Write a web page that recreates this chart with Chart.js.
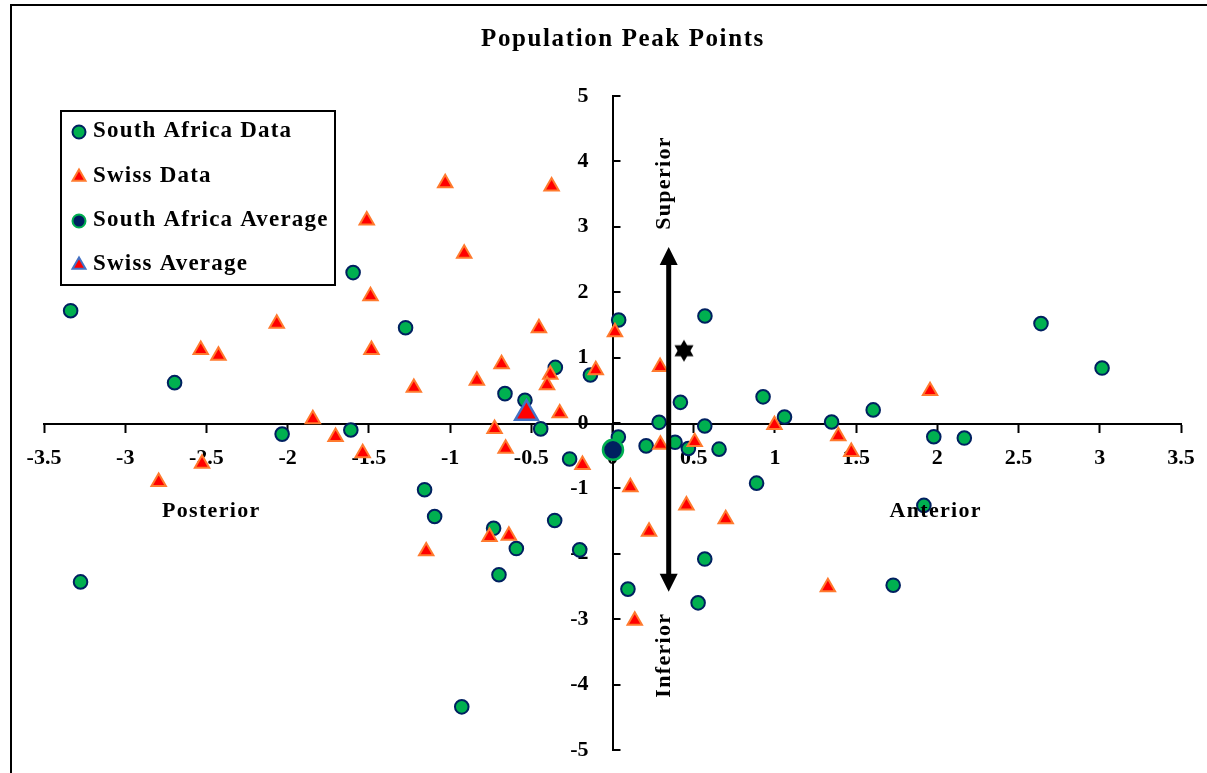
<!DOCTYPE html>
<html>
<head>
<meta charset="utf-8">
<script src="https://cdn.jsdelivr.net/npm/chart.js@4.4.1/dist/chart.umd.min.js"></script>
<style>
  html, body { margin: 0; padding: 0; background: #fff; }
  #wrap { position: relative; width: 1207px; height: 773px; }
  canvas { display: block; }
</style>
</head>
<body>
<div id="wrap"><canvas id="chart" width="1207" height="773"></canvas></div>
<script>
// Peak point coordinates (posterior/anterior on x, inferior/superior on y)
const southAfricaX = [
  -3.336, -2.696, -3.275, -2.034, -1.611, -1.597, -1.274, -1.157, -1.095, -0.732,
  -0.699, -0.592, -0.662, -0.539, -0.442, -0.352, -0.356, -0.264, -0.202, -0.136,
   0.038,  0.036,  0.207,  0.287,  0.418,  0.385,  0.467,  0.569,  0.568,  0.656,
   0.095,  0.527,  0.568,  0.887,  0.927,  1.059,  1.349,  1.605,  1.978,  2.166,
   1.917,  1.728,  2.638,  3.014, -0.928
];
const southAfricaY = [
   1.717,  0.617, -2.430, -0.170, -0.107,  2.300,  1.457, -1.020, -1.430, -1.610,
  -2.320, -1.920,  0.449,  0.347, -0.090,  0.850, -1.490, -0.550, -1.940,  0.734,
   1.575, -0.215, -0.350,  0.010,  0.316, -0.295, -0.390,  1.636, -0.046, -0.400,
  -2.540, -2.750, -2.080, -0.920,  0.400,  0.092,  0.015,  0.200, -0.210, -0.230,
  -1.260, -2.480,  1.520,  0.840, -4.340
];
const swissX = [
  -1.030, -0.375, -1.513, -0.913, -1.490, -2.067, -2.535, -2.426, -1.484, -0.453,
   0.015, -0.683, -0.835, -1.223, -0.383, -0.403, -0.103,  0.293, -0.325, -0.726,
  -0.658, -0.185, -1.845, -1.705, -1.538, -2.527, -2.794, -1.147, -0.757, -0.638,
   0.110,  0.225,  0.137,  0.295,  0.506,  0.455,  0.697,  0.997,  1.390,  1.470,
   1.955,  1.326
];
const swissY = [
   3.67,  3.62,  3.10,  2.59,  1.94,  1.52,  1.12,  1.03,  1.12,  1.45,
   1.39,  0.90,  0.65,  0.54,  0.74,  0.58,  0.81,  0.86,  0.15, -0.09,
  -0.39, -0.64,  0.06, -0.21, -0.46, -0.62, -0.90, -1.96, -1.74, -1.72,
  -0.98, -1.66, -3.02, -0.33, -0.29, -1.26, -1.47, -0.03, -0.20, -0.44,
   0.49, -2.51
];
const southAfricaAverage = [0.003, -0.41];
const swissAverage = [-0.53, 0.15];
const markedPoint = [0.44, 1.105];

const seriesNames = ['South Africa Data', 'Swiss Data', 'South Africa Average', 'Swiss Average'];
const xTickValues = [-3.5, -3, -2.5, -2, -1.5, -1, -0.5, 0, 0.5, 1, 1.5, 2, 2.5, 3, 3.5];
const yTickValues = [-5, -4, -3, -2, -1, 0, 1, 2, 3, 4, 5];

// Superior/inferior double arrow: x value and the two tip y values
const arrowX = 0.346;
const arrowTips = [2.69, -2.58];

const directionLabels = ['Posterior', 'Anterior', 'Superior', 'Inferior'];

// ---- styling and layout ----
const FONT = '"Liberation Serif", "DejaVu Serif", serif';
const GREEN = '#00B050', NAVY = '#002060', RED = '#FF0000', ORANGE = '#FF7A2E', BLUE = '#4472C4';

const toPoints = (xs, ys) => xs.map((x, i) => ({ x, y: ys[i] }));

// filled six-pointed star used for the marked point
function makeStar(r) {
  const size = Math.ceil(r * 2 + 4);
  const c = document.createElement('canvas');
  c.width = size; c.height = size;
  const g = c.getContext('2d');
  const cx = size / 2, cy = size / 2;
  g.fillStyle = '#000';
  [0, Math.PI].forEach(off => {
    g.beginPath();
    for (let k = 0; k < 3; k++) {
      const a = off + k * 2 * Math.PI / 3;
      const px = cx + Math.sin(a) * r, py = cy - Math.cos(a) * r;
      k === 0 ? g.moveTo(px, py) : g.lineTo(px, py);
    }
    g.closePath();
    g.fill();
  });
  return c;
}

const datasets = [
  { label: seriesNames[0], data: toPoints(southAfricaX, southAfricaY), pointStyle: 'circle', radius: 6.8,
    backgroundColor: GREEN, borderColor: NAVY, borderWidth: 2, order: 4 },
  { label: seriesNames[1], data: toPoints(swissX, swissY), pointStyle: 'triangle', radius: 8.3,
    backgroundColor: RED, borderColor: ORANGE, borderWidth: 2, order: 3 },
  { label: seriesNames[2], data: [{ x: southAfricaAverage[0], y: southAfricaAverage[1] }], pointStyle: 'circle', radius: 10,
    backgroundColor: NAVY, borderColor: GREEN, borderWidth: 2.5, order: 2 },
  { label: seriesNames[3], data: [{ x: swissAverage[0], y: swissAverage[1] }], pointStyle: 'triangle', radius: 13,
    backgroundColor: RED, borderColor: BLUE, borderWidth: 2.5, order: 1 },
  { label: 'marker', data: [{ x: markedPoint[0], y: markedPoint[1] }], pointStyle: makeStar(11), radius: 11,
    backgroundColor: '#000', borderColor: '#000', borderWidth: 0, order: 0 }
];

function spaced(ctx, px) { if ('letterSpacing' in ctx) ctx.letterSpacing = px + 'px'; }

// white page with an outer frame, plus the chart title
const framePlugin = {
  id: 'frame',
  beforeDraw(chart) {
    const ctx = chart.ctx;
    ctx.save();
    ctx.fillStyle = '#fff';
    ctx.fillRect(0, 0, chart.width, chart.height);
    ctx.strokeStyle = '#000';
    ctx.lineWidth = 2;
    ctx.strokeRect(11, 5, chart.width + 20, chart.height + 20);
    ctx.fillStyle = '#000';
    ctx.font = 'bold 25px ' + FONT;
    spaced(ctx, 1.6);
    ctx.textAlign = 'center';
    ctx.textBaseline = 'middle';
    ctx.fillText('Population Peak Points', 623, 40);
    ctx.restore();
  }
};

// y tick marks point to the right of the vertical axis
const yTickMarks = {
  id: 'yTickMarks',
  afterDraw(chart) {
    const { x: xs, y: ys } = chart.scales;
    const ctx = chart.ctx;
    const x0 = xs.getPixelForValue(0);
    ctx.save();
    ctx.strokeStyle = '#000';
    ctx.lineWidth = 2;
    ys.ticks.forEach(t => {
      const py = Math.round(ys.getPixelForValue(t.value));
      ctx.beginPath();
      ctx.moveTo(x0, py);
      ctx.lineTo(x0 + 8, py);
      ctx.stroke();
    });
    ctx.restore();
  }
};

// double-headed arrow and direction words
const arrowPlugin = {
  id: 'arrow',
  afterDatasetsDraw(chart) {
    const { x: xs, y: ys } = chart.scales;
    const ctx = chart.ctx;
    const px = xs.getPixelForValue(arrowX);
    const top = ys.getPixelForValue(arrowTips[0]);
    const bot = ys.getPixelForValue(arrowTips[1]);
    const headLen = 18, headHalf = 9;
    ctx.save();
    ctx.strokeStyle = '#000';
    ctx.fillStyle = '#000';
    ctx.lineWidth = 5;
    ctx.beginPath();
    ctx.moveTo(px, top + headLen - 2);
    ctx.lineTo(px, bot - headLen + 2);
    ctx.stroke();
    ctx.beginPath();
    ctx.moveTo(px, top);
    ctx.lineTo(px + headHalf, top + headLen);
    ctx.lineTo(px - headHalf, top + headLen);
    ctx.closePath();
    ctx.fill();
    ctx.beginPath();
    ctx.moveTo(px, bot);
    ctx.lineTo(px + headHalf, bot - headLen);
    ctx.lineTo(px - headHalf, bot - headLen);
    ctx.closePath();
    ctx.fill();

    ctx.font = 'bold 22px ' + FONT;
    spaced(ctx, 1.3);
    ctx.textAlign = 'center';
    ctx.textBaseline = 'middle';
    ctx.fillText(directionLabels[0], xs.getPixelForValue(-2.47), ys.getPixelForValue(-1.35));
    ctx.fillText(directionLabels[1], xs.getPixelForValue(1.99), ys.getPixelForValue(-1.35));
    [[directionLabels[2], 3.67], [directionLabels[3], -3.55]].forEach(([txt, yv]) => {
      ctx.save();
      ctx.translate(xs.getPixelForValue(0.32), ys.getPixelForValue(yv));
      ctx.rotate(-Math.PI / 2);
      ctx.fillText(txt, 0, 0);
      ctx.restore();
    });
    ctx.restore();
  }
};

// boxed legend in the upper-left of the plot
const legendBox = {
  id: 'legendBox',
  afterDraw(chart) {
    const ctx = chart.ctx;
    const box = { x: 61, y: 111, w: 274, h: 174 };
    const rows = [131, 176, 220, 264];
    const markerR = [6.5, 7.5, 6.5, 7.5];
    ctx.save();
    ctx.strokeStyle = '#000';
    ctx.lineWidth = 2;
    ctx.strokeRect(box.x, box.y, box.w, box.h);
    ctx.font = 'bold 23px ' + FONT;
    spaced(ctx, 1.2);
    ctx.textAlign = 'left';
    ctx.textBaseline = 'middle';
    for (let i = 0; i < 4; i++) {
      const ds = chart.data.datasets[i];
      ctx.fillStyle = ds.backgroundColor;
      ctx.strokeStyle = ds.borderColor;
      ctx.lineWidth = 2;
      Chart.helpers.drawPoint(ctx, { pointStyle: ds.pointStyle, radius: markerR[i], rotation: 0, borderWidth: 2 }, 79, rows[i] + 1);
      ctx.fillStyle = '#000';
      ctx.fillText(ds.label, 93, rows[i]);
    }
    ctx.restore();
  }
};

const tickFont = { family: FONT, size: 22, weight: 'bold' };
const fmt = v => String(v);
// the axes sit inside the plot, so their labels should not push the plot edges in
const noEdgePadding = s => { s.paddingTop = 0; s.paddingBottom = 0; s.paddingLeft = 0; s.paddingRight = 0; };

// both ranges are symmetric, so the centre of the plot is the origin
new Chart(document.getElementById('chart'), {
  type: 'scatter',
  data: { datasets },
  options: {
    responsive: false,
    animation: false,
    devicePixelRatio: 1,
    events: [],
    layout: { padding: { left: 44, right: 26, top: 96, bottom: 23 } },
    plugins: { legend: { display: false }, title: { display: false }, tooltip: { enabled: false } },
    scales: {
      x: {
        type: 'linear', min: -3.5, max: 3.5, position: 'center',
        afterBuildTicks: s => { s.ticks = xTickValues.map(v => ({ value: v })); },
        afterFit: noEdgePadding,
        ticks: { autoSkip: false, maxRotation: 0, color: '#000', font: tickFont, padding: 14, callback: fmt },
        grid: { drawOnChartArea: false, drawTicks: true, tickLength: 8, color: '#000', tickWidth: 2 },
        border: { display: true, color: '#000', width: 2 }
      },
      y: {
        type: 'linear', min: -5, max: 5, position: 'center',
        afterBuildTicks: s => { s.ticks = yTickValues.map(v => ({ value: v })); },
        afterFit: noEdgePadding,
        ticks: { autoSkip: false, color: '#000', font: tickFont, padding: 24, callback: fmt },
        grid: { drawOnChartArea: false, drawTicks: false, color: '#000' },
        border: { display: true, color: '#000', width: 2 }
      }
    }
  },
  plugins: [framePlugin, yTickMarks, arrowPlugin, legendBox]
});
</script>
</body>
</html>
